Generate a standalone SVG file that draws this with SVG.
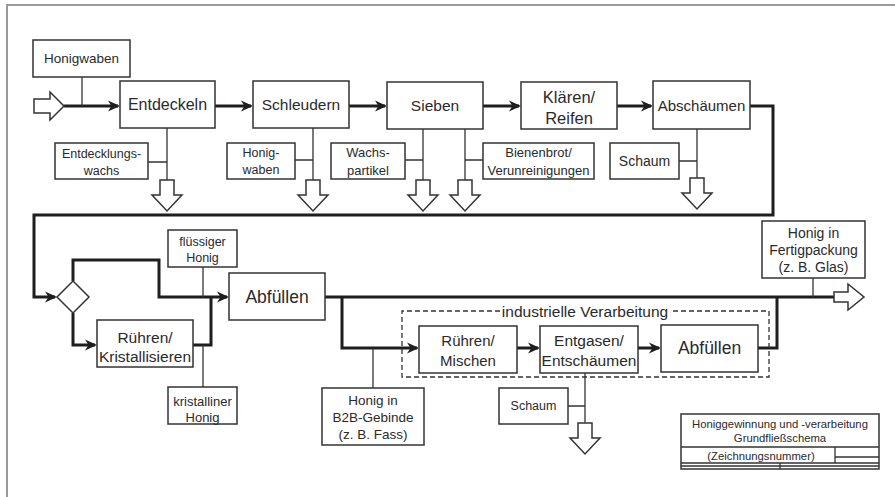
<svg xmlns="http://www.w3.org/2000/svg" xmlns:xlink="http://www.w3.org/1999/xlink" width="895" height="497" viewBox="0 0 895 497">
<style>
  .box { fill: #ffffff; stroke: #333333; stroke-width: 1.5; }
  .flow { fill: none; stroke: #1e1e1e; stroke-width: 3; }
  .thin { fill: none; stroke: #333333; stroke-width: 1.3; }
  .hollow { fill: #ffffff; stroke: #333333; stroke-width: 1.5; stroke-linejoin: miter; }
  .dash { fill: none; stroke: #333333; stroke-width: 1.3; stroke-dasharray: 5 3; }
  text { font-family: "Liberation Sans", Arial, sans-serif; fill: #2a2a2a; text-anchor: middle; dominant-baseline: central; }
  .m { font-size: 15.5px; }
  .s { font-size: 12.5px; }
  .t { font-size: 11.3px; }
</style>
<defs>
  <marker id="ah" viewBox="0 0 12 12" markerWidth="12" markerHeight="12" refX="10" refY="6" orient="auto" markerUnits="userSpaceOnUse">
    <path d="M0,0.5 L12,6 L0,11.5 L3.5,6 Z" fill="#1e1e1e"/>
  </marker>
  <path id="da" d="M-7,0 H7 V15 H15 L0,31 L-15,15 H-7 Z"/>
</defs>

<!-- frame -->
<path d="M7,497 V5 H895" fill="none" stroke="#9a9a9a" stroke-width="2"/>

<!-- connectors -->
<g id="connectors">
  <path class="flow" d="M64,106 H118" marker-end="url(#ah)"/>
  <path class="flow" d="M215,106 H251" marker-end="url(#ah)"/>
  <path class="flow" d="M349,106 H385" marker-end="url(#ah)"/>
  <path class="flow" d="M483,106 H519" marker-end="url(#ah)"/>
  <path class="flow" d="M617,106 H651" marker-end="url(#ah)"/>
  <path class="flow" d="M750,106 H773 V215 H34 V297 H55" marker-end="url(#ah)"/>
  <path class="flow" d="M73,281 V260 H159 V297 H227" marker-end="url(#ah)"/>
  <path class="flow" d="M73,313 V345 H95" marker-end="url(#ah)"/>
  <path class="flow" d="M193,345 H211 V297"/>
  <path class="flow" d="M325,297 H834"/>
  <path class="flow" d="M342,297 V348 H417" marker-end="url(#ah)"/>
  <path class="flow" d="M517,348 H538" marker-end="url(#ah)"/>
  <path class="flow" d="M638,348 H659" marker-end="url(#ah)"/>
  <path class="flow" d="M758,348 H777 V297"/>

  <path class="thin" d="M82,77 V106"/>
  <path class="thin" d="M167,128 V180 M148,162 H167"/>
  <path class="thin" d="M313,128 V180 M295,160 H313"/>
  <path class="thin" d="M423,129 V180 M405,160 H423"/>
  <path class="thin" d="M465,129 V180 M465,160 H483"/>
  <path class="thin" d="M697,129 V178 M679,161 H697"/>
  <path class="thin" d="M203,267 V297"/>
  <path class="thin" d="M203,387 V345"/>
  <path class="thin" d="M813,278 V297"/>
  <path class="thin" d="M373,348 V388"/>
  <path class="thin" d="M585,373 V423 M568,406 H585"/>

  <!-- hollow arrows -->
  <path class="hollow" d="M34,99 H50 V92 L64,106 L50,120 V113 H34 Z"/>
  <path class="hollow" d="M834,292 H848 V284 L864,297 L848,310 V302 H834 Z"/>
  <use href="#da" class="hollow" x="167" y="180"/>
  <use href="#da" class="hollow" x="313" y="180"/>
  <use href="#da" class="hollow" x="423" y="180"/>
  <use href="#da" class="hollow" x="465" y="180"/>
  <use href="#da" class="hollow" x="697" y="178"/>
  <use href="#da" class="hollow" x="585" y="423"/>
</g>

<!-- industrial processing group -->
<g id="industrial">
  <path class="dash" d="M500,311 H402 V377 H769 V311 H670"/>
  <text class="m" x="585" y="311">industrielle Verarbeitung</text>
</g>

<g id="honigwaben"><rect class="box" x="33" y="40" width="97" height="37"/><text x="81.5" y="58.5" style="font-size:13.5px">Honigwaben</text></g>
<g id="entdeckeln"><rect class="box" x="120" y="81" width="95" height="47"/><text class="m" x="167.5" y="104.5" style="font-size:16px">Entdeckeln</text></g>
<g id="schleudern"><rect class="box" x="253" y="81" width="96" height="47"/><text class="m" x="301" y="104.5">Schleudern</text></g>
<g id="sieben"><rect class="box" x="387" y="82" width="96" height="47"/><text class="m" x="435" y="105.5">Sieben</text></g>
<g id="klaeren"><rect class="box" x="521" y="82" width="96" height="47"/><text x="569" y="97" style="font-size:16.5px">Klären/</text><text x="569" y="118" style="font-size:16.5px">Reifen</text></g>
<g id="abschaeumen"><rect class="box" x="653" y="81" width="97" height="48"/><text x="701.5" y="105" style="font-size:15px">Abschäumen</text></g>

<g id="entdecklungswachs"><rect class="box" x="55" y="143" width="93" height="36"/><text class="s" x="101.5" y="154">Entdecklungs-</text><text class="s" x="101.5" y="171">wachs</text></g>
<g id="honigwaben2"><rect class="box" x="227" y="143" width="68" height="36"/><text class="s" x="261" y="152.5">Honig-</text><text class="s" x="261" y="170">waben</text></g>
<g id="wachspartikel"><rect class="box" x="331" y="143" width="74" height="36"/><text x="368" y="152.5" style="font-size:13px">Wachs-</text><text x="368" y="170" style="font-size:13px">partikel</text></g>
<g id="bienenbrot"><rect class="box" x="483" y="143" width="111" height="36"/><text x="538.5" y="152.5" style="font-size:13px">Bienenbrot/</text><text x="538.5" y="170" style="font-size:13px">Verunreinigungen</text></g>
<g id="schaum1"><rect class="box" x="610" y="143" width="69" height="36"/><text x="644.5" y="161" style="font-size:14px">Schaum</text></g>

<g id="verzweigung"><path class="box" d="M73,281 L89,297 L73,313 L57,297 Z"/></g>
<g id="fluessig"><rect class="box" x="168" y="230" width="69" height="37"/><text class="s" x="202.5" y="242">flüssiger</text><text class="s" x="202.5" y="258">Honig</text></g>
<g id="abfuellen1"><rect class="box" x="229" y="273" width="96" height="47"/><text x="277" y="296.5" style="font-size:17.5px">Abfüllen</text></g>
<g id="kristallisieren"><rect class="box" x="97" y="320" width="96" height="47"/><text class="m" x="145" y="337">Rühren/</text><text class="m" x="145" y="356">Kristallisieren</text></g>
<g id="kristallin"><rect class="box" x="168" y="387" width="69" height="37"/><text x="202.5" y="401" style="font-size:13px">kristalliner</text><text x="202.5" y="417" style="font-size:13px">Honig</text></g>

<g id="fertigpackung"><rect class="box" x="762" y="221" width="103" height="57"/><text x="813.5" y="233" style="font-size:14px">Honig in</text><text x="813.5" y="250" style="font-size:14px">Fertigpackung</text><text x="813.5" y="267" style="font-size:14px">(z. B. Glas)</text></g>

<g id="mischen"><rect class="box" x="419" y="326" width="98" height="47"/><text x="468" y="340" style="font-size:15px">Rühren/</text><text x="468" y="360" style="font-size:15px">Mischen</text></g>
<g id="entgasen"><rect class="box" x="540" y="326" width="98" height="47"/><text class="m" x="589" y="340">Entgasen/</text><text class="m" x="589" y="360">Entschäumen</text></g>
<g id="abfuellen2"><rect class="box" x="661" y="325" width="97" height="47"/><text x="709.5" y="348" style="font-size:17.5px">Abfüllen</text></g>

<g id="b2b"><rect class="box" x="322" y="388" width="102" height="57"/><text x="373" y="400" style="font-size:13.5px">Honig in</text><text x="373" y="417" style="font-size:13.5px">B2B-Gebinde</text><text x="373" y="434" style="font-size:13.5px">(z. B. Fass)</text></g>
<g id="schaum2"><rect class="box" x="499" y="388" width="69" height="36"/><text class="s" x="533.5" y="406">Schaum</text></g>

<g id="titleblock">
  <rect class="box" x="681" y="414" width="198" height="55"/>
  <path class="thin" d="M681,447 H879 M681,463 H879 M681,466 H879 M835,447 V463 M835,457 H879 M780,463 V469"/>
  <text class="t" x="780" y="424">Honiggewinnung und -verarbeitung</text>
  <text class="t" x="780" y="438">Grundfließschema</text>
  <text class="t" x="761" y="456">(Zeichnungsnummer)</text>
</g>
</svg>
